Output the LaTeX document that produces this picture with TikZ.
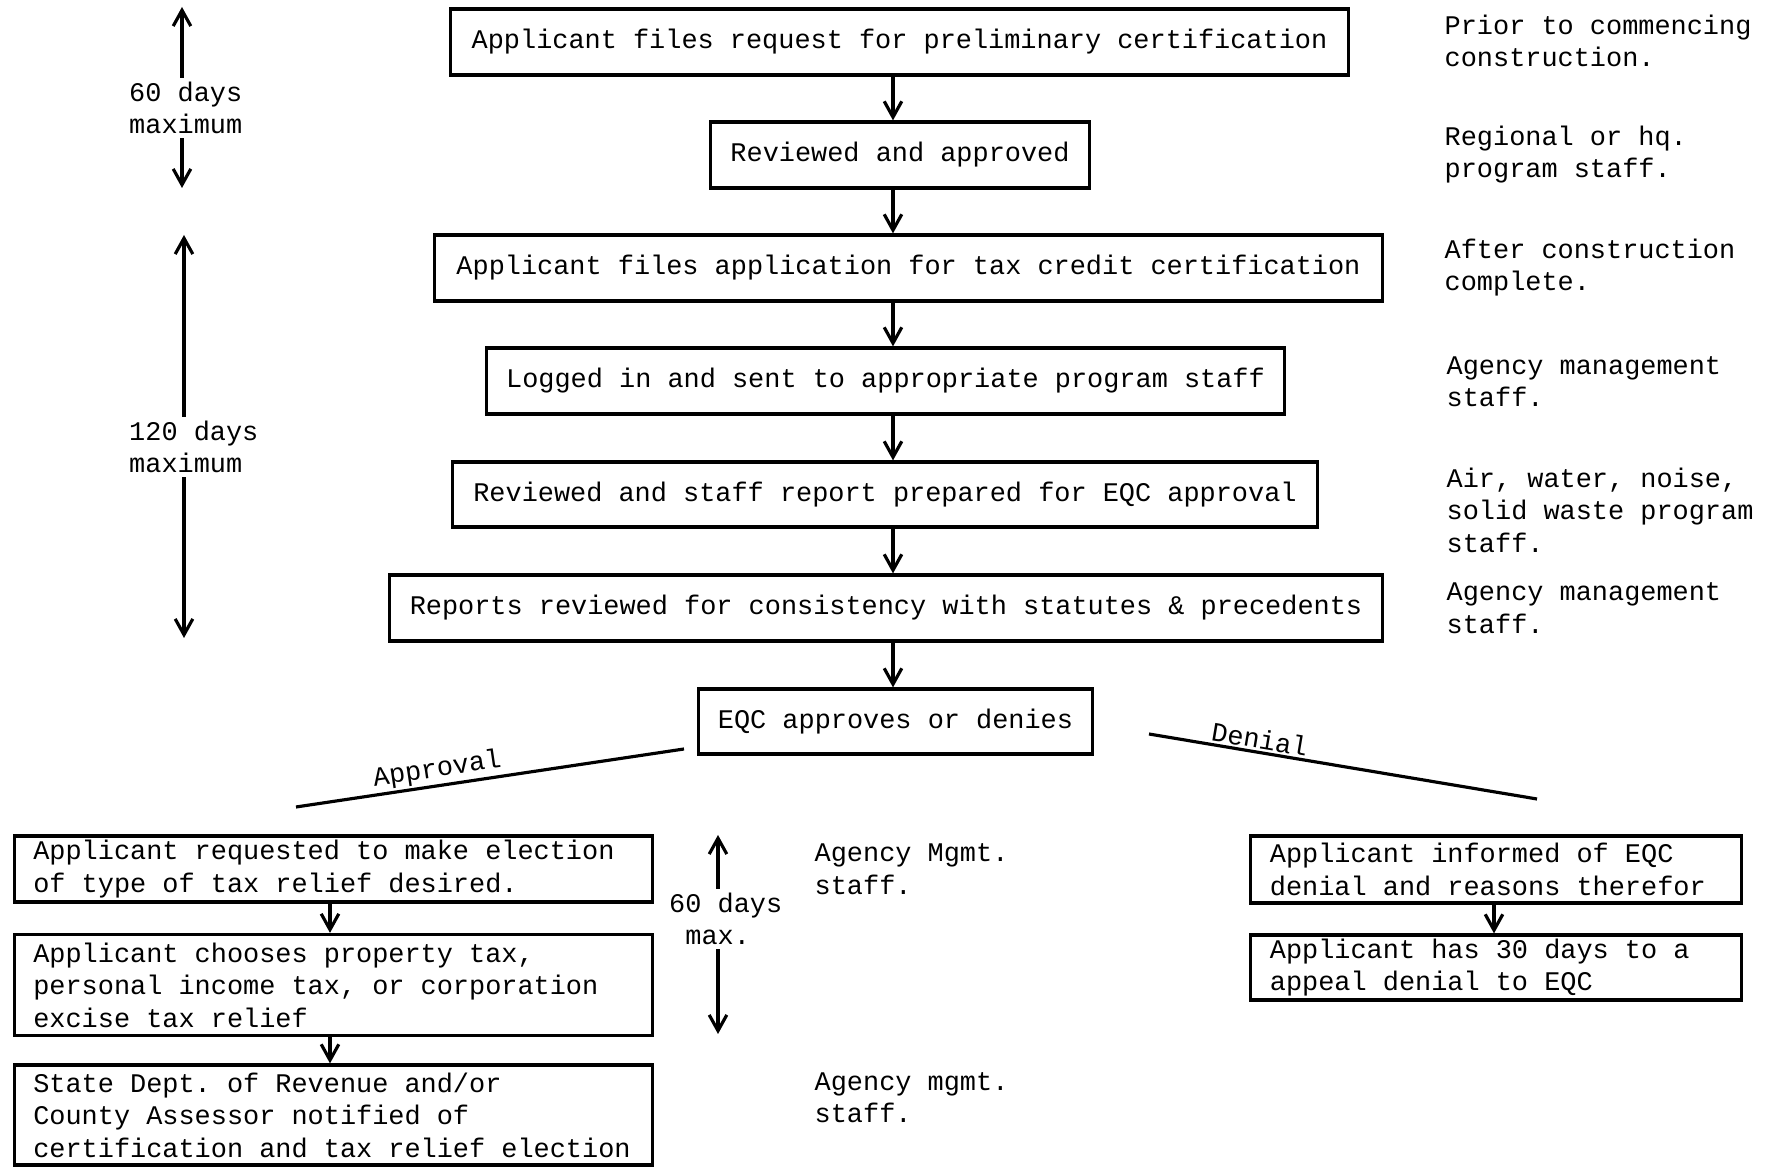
\documentclass[tikz,border=0pt]{standalone}
\usepackage{fontspec}
\setmonofont{Liberation Mono}
\usetikzlibrary{arrows.meta}
\begin{document}
\begin{tikzpicture}[x=0.01cm,y=-0.01cm,
  every node/.style={font=\ttfamily\fontsize{7.65}{9.25}\selectfont},
  box/.style={draw, line width=0.9pt, inner sep=0pt, minimum height=0.66cm, align=center},
  lbox/.style={draw, line width=0.9pt, inner xsep=0.19cm, inner ysep=0pt, align=flush left,
    execute at begin node={\spaceskip=0pt\xspaceskip=0pt}},
  note/.style={anchor=west, align=left, inner sep=0pt},
  tnote/.style={anchor=west, align=left, inner sep=1pt},
  arr/.style={-{Straight Barb[length=4.5pt,width=5pt]}, line width=0.9pt},
  branch/.style={line width=0.9pt}]
\useasboundingbox (0,0) rectangle (1772,1168);

% main column
\node[box, minimum width=8.97cm] (b1) at (899.5,42) {Applicant files request for preliminary certification};
\node[box, minimum width=3.78cm] (b2) at (900,155) {Reviewed and approved};
\node[box, minimum width=9.47cm] (b3) at (908.5,268) {Applicant files application for tax credit certification};
\node[box, minimum width=7.97cm] (b4) at (885.5,381) {Logged in and sent to appropriate program staff};
\node[box, minimum width=8.64cm, minimum height=0.65cm] (b5) at (885,494.5) {Reviewed and staff report prepared for EQC approval};
\node[box, minimum width=9.92cm] (b6) at (886,608) {Reports reviewed for consistency with statutes \& precedents};
\node[box, minimum width=3.93cm, minimum height=0.65cm] (b7) at (895.5,721.5) {EQC approves or denies};

\coordinate (ax) at (893,0);
\draw[arr] (b1.south -| ax) -- (b2.north -| ax);
\draw[arr] (b2.south -| ax) -- (b3.north -| ax);
\draw[arr] (b3.south -| ax) -- (b4.north -| ax);
\draw[arr] (b4.south -| ax) -- (b5.north -| ax);
\draw[arr] (b5.south -| ax) -- (b6.north -| ax);
\draw[arr] (b6.south -| ax) -- (b7.north -| ax);

% right notes
\node[note] (n1) at (1444,41) {Prior to commencing\\construction.};
\node[note] (n2) at (1444,154.5) {Regional or hq.\\program staff.};
\node[note] (n3) at (1444,267.5) {After construction\\complete.};
\node[note] (n4) at (1446,381.5) {Agency management\\staff.};
\node[note] (n5) at (1446,510) {Air, water, noise,\\solid waste program\\staff.};
\node[note] (n6) at (1446,608) {Agency management\\staff.};

% left time spans
\node[tnote] (t1) at (125,108) {60 days\\maximum};
\coordinate (t1top) at (182,7);
\coordinate (t1bot) at (182,188);
\draw[arr] (t1top |- t1.north) -- (t1top);
\draw[arr] (t1bot |- t1.south) -- (t1bot);

\node[tnote] (t2) at (125,447) {120 days\\maximum};
\coordinate (t2top) at (184,235);
\coordinate (t2bot) at (184,638);
\draw[arr] (t2top |- t2.north) -- (t2top);
\draw[arr] (t2bot |- t2.south) -- (t2bot);

% branches
\coordinate (apA) at (296,807);
\coordinate (apB) at (684,749);
\draw[branch] (apA) -- node[pos=0.37, above=0.5pt, sloped, inner sep=0pt] (apl) {Approval} (apB);
\coordinate (deA) at (1149,734);
\coordinate (deB) at (1537,799);
\draw[branch] (deA) -- node[pos=0.28, above=0.5pt, sloped, inner sep=0pt] (del) {Denial} (deB);

% approval branch
\node[lbox, text width=6.0cm, minimum height=0.66cm] (b8) at (333.5,869) {Applicant requested to make election\\of type of tax relief desired.};
\node[lbox, text width=6.0cm, minimum height=1.01cm] (b9) at (333.5,985) {Applicant chooses property tax,\\personal income tax, or corporation\\excise tax relief};
\node[lbox, text width=6.0cm, minimum height=1.00cm] (b10) at (333.5,1115) {State Dept. of Revenue and/or\\County Assessor notified of\\certification and tax relief election};
\coordinate (bx) at (330,0);
\draw[arr] (b8.south -| bx) -- (b9.north -| bx);
\draw[arr] (b9.south -| bx) -- (b10.north -| bx);

\node[tnote] (t3) at (665,919) {60 days\\\phantom{0}max.};
\coordinate (t3top) at (718,835);
\coordinate (t3bot) at (718,1034);
\draw[arr] (t3top |- t3.north) -- (t3top);
\draw[arr] (t3bot |- t3.south) -- (t3bot);

\node[note] (n7) at (814,869) {Agency Mgmt.\\staff.};
\node[note] (n8) at (814,1097.5) {Agency mgmt.\\staff.};

% denial branch
\node[lbox, text width=4.52cm, minimum height=0.67cm] (b11) at (1496,869.5) {Applicant informed of EQC\\denial and reasons therefor};
\node[lbox, text width=4.52cm, minimum height=0.65cm] (b12) at (1496,967.5) {Applicant has 30 days to a\\appeal denial to EQC};
\coordinate (cx) at (1494,0);
\draw[arr] (b11.south -| cx) -- (b12.north -| cx);
\end{tikzpicture}
\end{document}
